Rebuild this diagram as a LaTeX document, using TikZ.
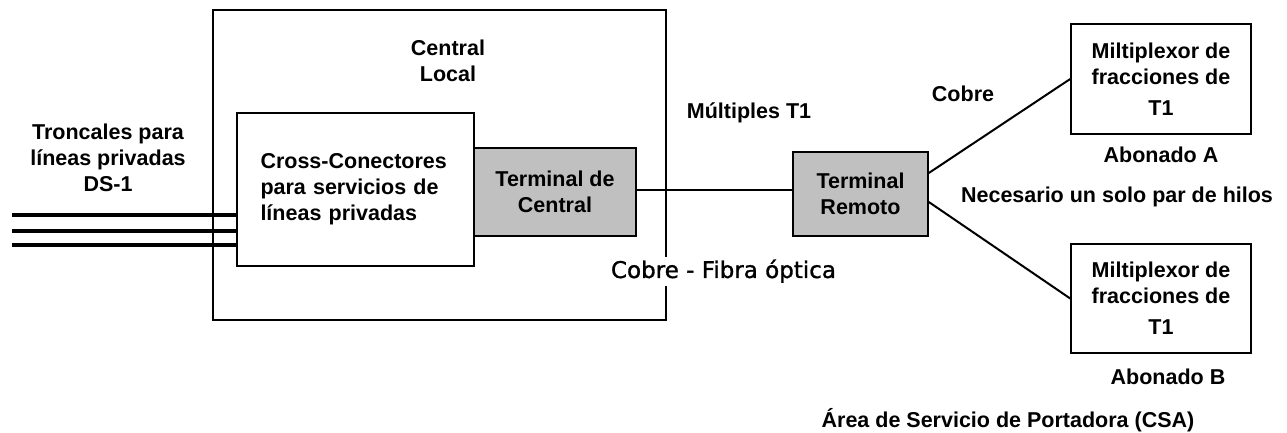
\documentclass[tikz,border=0pt]{standalone}
\usepackage{fontspec}
\setmainfont{Liberation Sans}
\newfontfamily\fibrafont[FakeBold=1.2]{DejaVu Sans}
\usepackage{tikz}
\usetikzlibrary{positioning,calc}
\definecolor{tgray}{HTML}{C0C0C0}

\begin{document}
\begin{tikzpicture}[
    x=1pt,
    y=1pt,
    font=\fontsize{21.5}{26}\selectfont\bfseries,
    box/.style={rectangle, draw=black, line width=1.6pt, fill=white, align=center, inner sep=0pt},
    grey/.style={box, fill=tgray},
    wire/.style={line width=2pt},
    trunk/.style={line width=3.4pt},
    lab/.style={inner sep=0pt, align=center}
  ]
    \useasboundingbox (0,0) rectangle (1287,433);
    \node[box, fill=none, minimum width=453, minimum height=310] (local) at (439.5,268) {};
    \node[box, minimum width=237, minimum height=153, text width=190, align=left] (cross) at (355.5,243.5) {Cross-Conectores\\para servicios de\\líneas privadas};
    \node[grey, minimum width=162, minimum height=88] (tcentral) at (555,241) {Terminal de\\Central};
    \node[grey, minimum width=135, minimum height=84] (tremoto) at (860.5,239) {Terminal\\Remoto};
    \node[box, minimum width=180, minimum height=110] (muxa) at (1161,354) {Miltiplexor de\\fracciones de\\[5pt]T1};
    \node[box, minimum width=180, minimum height=109] (muxb) at (1161,134.5) {Miltiplexor de\\fracciones de\\[5pt]T1};

    \node[lab, anchor=north] (troncales) at (108,309.5) {Troncales para\\líneas privadas\\DS-1};
    \node[lab, anchor=north] (central) at (448,393.5) {Central\\Local};
    \node[lab, anchor=base] (multiples) at (749,314) {Múltiples T1};
    \node[lab, anchor=base] (cobre) at (963,331) {Cobre};
    \node[lab, anchor=base] (abonadoa) at (1161,270) {Abonado A};
    \node[lab, anchor=base] (hilos) at (1117,230) {Necesario un solo par de hilos};
    \node[lab, anchor=base] (abonadob) at (1168,48) {Abonado B};
    \node[lab, anchor=base] (csa) at (1008,5) {Área de Servicio de Portadora (CSA)};

    \foreach \y/\n in {218/1,202/2,188/3}
      \coordinate (ds\n) at (12,\y);
    \foreach \n in {1,2,3}
      \draw[trunk] (ds\n) -- (ds\n -| cross.west);
    \draw[trunk, line width=2.6pt] ([yshift=2]tcentral.east) -- ([yshift=2]tcentral.east -| tremoto.west);
    \draw[wire] ([yshift=21]tremoto.east) -- (muxa.west);
    \draw[wire] ([yshift=-8]tremoto.east) -- (muxb.west);

    \node[lab, anchor=base, fill=white, inner xsep=2pt, inner ysep=3pt, font=\fontsize{23}{28}\selectfont\fibrafont] (fibra) at (723.5,155) {Cobre - Fibra óptica};
  \end{tikzpicture}
\end{document}
